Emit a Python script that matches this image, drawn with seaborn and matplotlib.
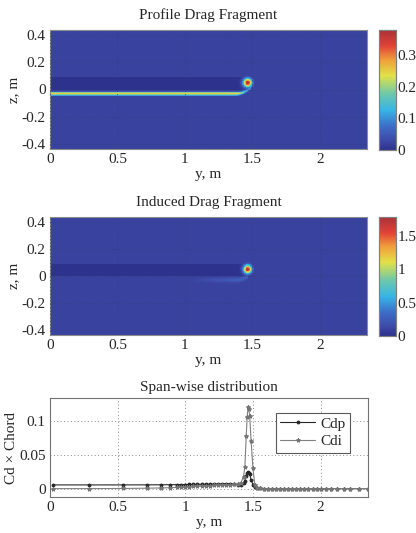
import numpy as np
import pandas as pd
import matplotlib
matplotlib.use("Agg")
import matplotlib.pyplot as plt
import seaborn as sns
from matplotlib.colors import LinearSegmentedColormap

# ---------------- span-wise distribution data ----------------
span_y = [0.02, 0.29, 0.54, 0.72, 0.82, 0.89, 0.94, 0.97, 1.00, 1.03, 1.06, 1.09,
          1.12, 1.15, 1.18, 1.21, 1.24, 1.27, 1.30, 1.33, 1.36, 1.39, 1.41, 1.43,
          1.44, 1.45, 1.457, 1.464, 1.47, 1.476, 1.486, 1.50, 1.514, 1.53, 1.55,
          1.58, 1.61, 1.64, 1.67, 1.70, 1.73, 1.76, 1.79, 1.82, 1.85, 1.88, 1.91,
          1.94, 1.97, 2.00, 2.04, 2.08, 2.12, 2.17, 2.22, 2.28, 2.35]
cdp = [0.0055, 0.0055, 0.0055, 0.0056, 0.0057, 0.0058, 0.0059, 0.0060, 0.0061, 0.0062,
       0.0063, 0.0064, 0.0065, 0.0066, 0.0067, 0.0068, 0.0070, 0.0072, 0.0074, 0.0074,
       0.0070, 0.0060, 0.0055, 0.0080, 0.0120, 0.0190, 0.0230, 0.0250, 0.0240, 0.0215,
       0.0130, 0.0060, 0.0020, 0.0006, 0.0002, 0.0, 0.0, 0.0, 0.0, 0.0, 0.0, 0.0, 0.0,
       0.0, 0.0, 0.0, 0.0, 0.0, 0.0, 0.0, 0.0, 0.0, 0.0, 0.0, 0.0, 0.0, 0.0]
cdi = [0.0000, 0.0000, 0.0002, 0.0006, 0.0010, 0.0014, 0.0018, 0.0022, 0.0026, 0.0030,
       0.0033, 0.0036, 0.0039, 0.0042, 0.0045, 0.0048, 0.0051, 0.0054, 0.0057, 0.0060,
       0.0062, 0.0065, 0.0085, 0.0180, 0.0320, 0.0780, 0.1070, 0.1220, 0.1180, 0.1080,
       0.0710, 0.0300, 0.0050, 0.0008, 0.0002, 0.0, 0.0, 0.0, 0.0, 0.0, 0.0, 0.0, 0.0,
       0.0, 0.0, 0.0, 0.0, 0.0, 0.0, 0.0, 0.0, 0.0, 0.0, 0.0, 0.0, 0.0, 0.0]

# ---------------- wake-plane field description ----------------
y_range = [0.0, 2.35]
z_range = [-0.435, 0.435]
wing_tip_y = 1.435
wing_band_z = [0.0, 0.09]
vortex_center = [1.465, 0.05]
wake_z = -0.03
profile_peak = 0.38
profile_background = 0.022
profile_wake = 0.26
induced_peak = 1.76
induced_background = 0.10
induced_wake = 0.18

x_ticks = [0, 0.5, 1, 1.5, 2]
x_ticklabels = ["0", "0.5", "1", "1.5", "2"]
z_ticks = [0.4, 0.2, 0, -0.2, -0.4]
z_ticklabels = ["0.4", "0.2", "0", "-0.2", "-0.4"]
profile_cbar_ticks = [0, 0.1, 0.2, 0.3]
profile_cbar_labels = ["0", "0.1", "0.2", "0.3"]
induced_cbar_ticks = [0, 0.5, 1, 1.5]
induced_cbar_labels = ["0", "0.5", "1", "1.5"]
line_yticks = [0, 0.05, 0.1]
line_yticklabels = ["0", "0.05", "0.1"]

# ---------------- build fields ----------------
d = 0.005
ny = int(round((y_range[1] - y_range[0]) / d))
nz = int(round((z_range[1] - z_range[0]) / d))
yc = y_range[0] + (np.arange(ny) + 0.5) * d
zc = z_range[1] - (np.arange(nz) + 0.5) * d        # rows from top to bottom
Y, Z = np.meshgrid(yc, zc)

wing = (Y <= wing_tip_y) & (Z >= wing_band_z[0]) & (Z <= wing_band_z[1])
r2 = (Y - vortex_center[0]) ** 2 + (Z - vortex_center[1]) ** 2

# wake centre line curling up around the tip vortex
zw = np.where(Y < 1.38, wake_z, wake_z + ((np.clip(Y, 1.38, 1.49) - 1.38) / 0.09) ** 2 * 0.03)
wake_fade = np.where(Y < 1.38, 1.0, 1.0 - np.clip((Y - 1.38) / 0.09, 0, 1) * 0.6)
wake_fade = np.where(Y >= 1.49, 0.0, wake_fade)

profile = np.full_like(Y, profile_background)
profile[wing] = 0.0
wake_p = profile_wake * wake_fade * np.exp(-(Z - zw) ** 2 / (2 * 0.0095 ** 2))
vort_p = profile_peak * np.exp(-r2 / (2 * 0.023 ** 2))
profile = np.maximum(profile, np.maximum(wake_p, vort_p))

induced = np.full_like(Y, induced_background)
induced[wing] = 0.0
ramp = np.clip((Y - 1.05) / 0.35, 0, 1) * np.where(Y < 1.47, 1, 0)
wake_i = induced_background + induced_wake * ramp * np.exp(-(Z - zw) ** 2 / (2 * 0.011 ** 2))
vort_i = induced_peak * np.exp(-r2 / (2 * 0.022 ** 2))
induced = np.maximum(induced, np.maximum(wake_i * (~wing), vort_i))

# washed-out jet-like colormap as in the reference
cmap = LinearSegmentedColormap.from_list("washed_jet", [
    (0.00, (45/255, 50/255, 140/255)),
    (0.08, (62/255, 74/255, 168/255)),
    (0.20, (60/255, 110/255, 200/255)),
    (0.33, (55/255, 180/255, 230/255)),
    (0.47, (110/255, 200/255, 170/255)),
    (0.62, (225/255, 225/255, 70/255)),
    (0.75, (240/255, 160/255, 60/255)),
    (0.87, (225/255, 65/255, 55/255)),
    (1.00, (170/255, 50/255, 55/255)),
])

# ---------------- figure ----------------
sns.set_theme(style="white")
plt.rcParams["font.family"] = ["Liberation Serif", "DejaVu Serif"]
plt.rcParams["font.size"] = 10

fig = plt.figure(figsize=(4.16, 5.33), dpi=100)
W, H = 416, 533


def box(l, t, r, b):
    return [l / W, 1 - b / H, (r - l) / W, (b - t) / H]


ax1 = fig.add_axes(box(50, 30, 367, 149))
cax1 = fig.add_axes(box(379, 30, 396, 150))
ax2 = fig.add_axes(box(50, 217, 367, 335))
cax2 = fig.add_axes(box(379, 217, 396, 336))
ax3 = fig.add_axes(box(50, 398, 368, 497))


def style_field(ax, cax, title, cticks, clabels):
    ax.set_xticks([(v - y_range[0]) / d for v in x_ticks])
    ax.set_xticklabels(x_ticklabels, rotation=0)
    ax.set_yticks([(z_range[1] - v) / d for v in z_ticks])
    ax.set_yticklabels(z_ticklabels, rotation=0)
    ax.set_axisbelow(False)
    ax.grid(True, linestyle=(0, (1, 2.5)), color=(0.2, 0.25, 0.45), linewidth=0.7, alpha=0.8)
    for s in ax.spines.values():
        s.set_visible(True)
        s.set_color("0.55")
        s.set_linewidth(0.8)
    ax.tick_params(direction="in", length=3, color="0.3", labelsize=11, pad=3)
    ax.set_title(title, fontsize=11, pad=8)
    ax.set_xlabel("y, m", fontsize=11, labelpad=1)
    ax.set_ylabel("z, m", fontsize=11, labelpad=1)
    cax.set_yticks(cticks)
    cax.set_yticklabels(clabels)
    cax.tick_params(direction="in", length=3, color="0.3", labelsize=11, pad=1, right=True)
    for s in cax.spines.values():
        s.set_visible(True)
        s.set_color("0.5")
        s.set_linewidth(0.8)


sns.heatmap(profile, ax=ax1, cbar_ax=cax1, cmap=cmap, vmin=0, vmax=profile_peak,
            xticklabels=False, yticklabels=False, rasterized=True)
style_field(ax1, cax1, "Profile Drag Fragment", profile_cbar_ticks, profile_cbar_labels)

sns.heatmap(induced, ax=ax2, cbar_ax=cax2, cmap=cmap, vmin=0, vmax=1.78,
            xticklabels=False, yticklabels=False, rasterized=True)
style_field(ax2, cax2, "Induced Drag Fragment", induced_cbar_ticks, induced_cbar_labels)

# ---------------- span-wise line plot ----------------
df = pd.DataFrame({"y": span_y, "Cdp": cdp, "Cdi": cdi})
sns.lineplot(data=df, x="y", y="Cdp", ax=ax3, color="0.15", marker="o", markersize=2.0,
             markeredgecolor="0.15", linewidth=0.8, label="Cdp", sort=False)
sns.lineplot(data=df, x="y", y="Cdi", ax=ax3, color="0.5", marker="*", markersize=3.0,
             markeredgecolor="0.45", linewidth=0.8, label="Cdi", sort=False)
ax3.set_xlim(0, 2.35)
ax3.set_ylim(-0.0125, 0.135)
ax3.set_xticks(x_ticks)
ax3.set_xticklabels(x_ticklabels)
ax3.set_yticks(line_yticks)
ax3.set_yticklabels(line_yticklabels)
ax3.grid(True, linestyle=(0, (1, 2.5)), color="0.55", linewidth=0.7)
for s in ax3.spines.values():
    s.set_visible(True)
    s.set_color("0.45")
    s.set_linewidth(0.8)
ax3.tick_params(direction="in", length=3, color="0.3", labelsize=11, pad=3)
ax3.set_title("Span-wise distribution", fontsize=11, pad=5)
ax3.set_xlabel("y, m", fontsize=11, labelpad=1)
ax3.set_ylabel("Cd × Chord", fontsize=11, labelpad=1)
leg = ax3.legend(loc="upper right", bbox_to_anchor=(0.967, 0.93), fontsize=11,
                 frameon=True, fancybox=False, framealpha=1, edgecolor="0.35",
                 handlelength=2.3, handletextpad=0.3, borderpad=0.3, labelspacing=0.25)
leg.get_frame().set_linewidth(0.8)

fig.savefig("out.png", dpi=100)
